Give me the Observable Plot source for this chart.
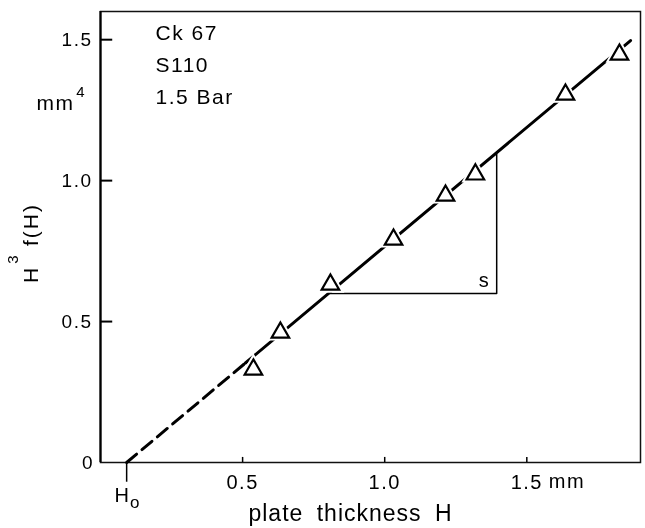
<!DOCTYPE html>
<html><head><meta charset="utf-8">
<script src="https://cdn.jsdelivr.net/npm/d3@7"></script>
<script src="https://cdn.jsdelivr.net/npm/@observablehq/plot@0.6"></script>
<style>
html,body{margin:0;padding:0;background:#fff;}
#chart svg{filter:grayscale(100%);}
</style>
</head><body><div id="chart"></div>
<script>
// measured points: plate thickness H (mm) vs H^3 f(H) (mm^4)
const thicknessH = [0.538, 0.633, 0.809, 1.031, 1.214, 1.319, 1.636, 1.826];
const h3fH       = [0.330, 0.461, 0.631, 0.791, 0.947, 1.022, 1.305, 1.447];
// fitted straight line (dashed extrapolation to H0, solid through data)
const H0 = 0.092;
const fitDashedH = [0.092, 0.51];
const fitDashedV = [0.0, 0.353];
const fitSolidH  = [0.51, 1.865];
const fitSolidV  = [0.353, 1.497];
// slope triangle "s"
const slopeH = [0.806, 1.394, 1.394];
const slopeV = [0.600, 0.600, 1.094];
// ticks
const xTicks = [0.5, 1.0, 1.5];
const xTickLabels = ["0.5", "1.0", "1.5"];
const yTicks = [0, 0.5, 1.0, 1.5];
const yTickLabels = ["0", "0.5", "1.0", "1.5"];
const infoLines = ["Ck 67", "S110", "1.5 Bar"];

const pts = thicknessH.map((h, i) => ({h, v: h3fH[i]}));
const dashed = fitDashedH.map((h, i) => ({h, v: fitDashedV[i]}));
const solid = fitSolidH.map((h, i) => ({h, v: fitSolidV[i]}));
const slope = slopeH.map((h, i) => ({h, v: slopeV[i]}));

const font = "'Liberation Sans', Arial, Helvetica, sans-serif";
const C = {textAnchor: "middle", lineAnchor: "middle", fill: "#000"};

const chart = Plot.plot({
  width: 645, height: 528,
  marginLeft: 100, marginRight: 5, marginTop: 11, marginBottom: 66,
  x: {domain: [0, 1.9], axis: null},
  y: {domain: [0, 1.6], axis: null},
  style: {fontFamily: font, fontSize: "19px", color: "#000", background: "#fff", overflow: "visible"},
  marks: [
    Plot.frame({stroke: "#111", strokeWidth: 1.5}),
    Plot.ruleX([0], {stroke: "#000", strokeWidth: 2.2}),
    // inward y ticks
    Plot.ruleY(yTicks.filter(d => d > 0), {y: d => d, x1: 0, x2: 0.043, stroke: "#000", strokeWidth: 2}),
    // inward x ticks
    Plot.ruleX(xTicks, {x: d => d, y1: 0, y2: 0.018, stroke: "#000", strokeWidth: 1.5}),
    // H0 tick pointing down
    Plot.ruleX([H0], {x: d => d, y1: 0, y2: -0.07, stroke: "#000", strokeWidth: 1.5}),
    Plot.axisY({ticks: yTicks, tickSize: 0, tickPadding: 8, label: null, fontSize: 19, fill: "#000",
      tickFormat: d => yTickLabels[yTicks.indexOf(d)]}),
    Plot.axisX({ticks: xTicks, tickSize: 0, tickPadding: 12, label: null, fontSize: 20, fill: "#000",
      tickFormat: d => xTickLabels[xTicks.indexOf(d)]}),
    Plot.text([xTicks[2]], {...C, x: d => d, frameAnchor: "bottom", text: () => "mm", textAnchor: "start",
      dx: 22, dy: 19, fontSize: 20}),
    Plot.text([H0], {...C, x: d => d, frameAnchor: "bottom", text: () => "H", dx: -5, dy: 33, fontSize: 20}),
    Plot.text([H0], {...C, x: d => d, frameAnchor: "bottom", text: () => "o", dx: 8, dy: 40, fontSize: 17}),
    // slope triangle
    Plot.line(slope, {x: "h", y: "v", stroke: "#000", strokeWidth: 1.5}),
    Plot.text([slope[1]], {...C, x: "h", y: "v", text: () => "s", dx: -13, dy: -13, fontSize: 20}),
    // fit line
    Plot.line(dashed, {x: "h", y: "v", stroke: "#000", strokeWidth: 3, strokeDasharray: "13,7"}),
    Plot.line(solid, {x: "h", y: "v", stroke: "#000", strokeWidth: 3}),
    // triangles with white halo
    Plot.dot(pts, {x: "h", y: "v", symbol: "triangle", r: 6.5, fill: "#fff", stroke: "#fff", strokeWidth: 6}),
    Plot.dot(pts, {x: "h", y: "v", symbol: "triangle", r: 6.5, fill: "#fff", stroke: "#000", strokeWidth: 2.2}),
    // info block
    Plot.text([infoLines.join("\n")], {frameAnchor: "top-left", text: d => d, textAnchor: "start", fill: "#000",
      lineAnchor: "top", lineHeight: 1.52, dx: 55, dy: 6, fontSize: 21}),
    // unit mm^4
    Plot.text(["mm"], {...C, frameAnchor: "top-left", text: d => d, dx: -45, dy: 92, fontSize: 21}),
    Plot.text(["4"], {...C, frameAnchor: "top-left", text: d => d, dx: -20, dy: 81, fontSize: 15}),
    // y label H^3 f(H)
    Plot.text(["H"], {...C, frameAnchor: "top-left", text: d => d, rotate: -90, dx: -69, dy: 264, fontSize: 21}),
    Plot.text(["3"], {...C, frameAnchor: "top-left", text: d => d, rotate: -90, dx: -87, dy: 248, fontSize: 15}),
    Plot.text(["f(H)"], {...C, frameAnchor: "top-left", text: d => d, rotate: -90, dx: -69, dy: 213, fontSize: 21}),
    // x label
    Plot.text(["plate thickness H"], {...C, frameAnchor: "bottom", text: d => d, dx: -20, dy: 51, fontSize: 23})
  ]
});
// letter spacing to mimic the wide typeface of the original
const spacing = {"mm": 1.5, "f(H)": 2, "plate thickness H": 1, "0.5": 1.5, "1.0": 1.5, "1.5": 1.5, "0": 0};
d3.select(chart).selectAll("text").each(function() {
  const t = this.textContent;
  if (this.querySelector("tspan")) this.style.letterSpacing = "1.5px";
  else if (t in spacing) this.style.letterSpacing = spacing[t] + "px";
  if (t === "plate thickness H") this.style.wordSpacing = "6px";
});
document.getElementById("chart").appendChild(chart);
</script>
</body></html>
